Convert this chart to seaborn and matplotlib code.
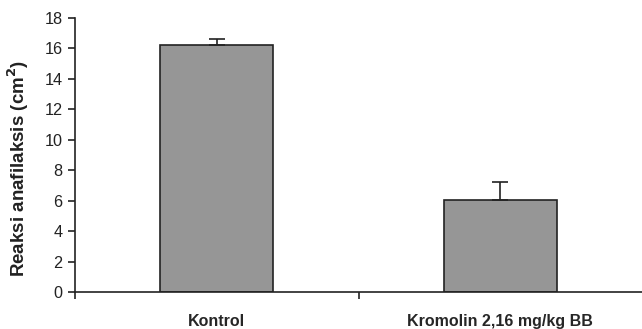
import matplotlib
matplotlib.use("Agg")
import matplotlib.pyplot as plt
import seaborn as sns
import pandas as pd

categories = ["Kontrol", "Kromolin 2,16 mg/kg BB"]
means = [16.25, 6.05]
errors = [0.4, 1.15]

sns.set_style("white")
plt.rcParams["font.family"] = ["Liberation Sans", "DejaVu Sans"]

df = pd.DataFrame({"group": categories, "value": means})

fig = plt.figure(figsize=(6.42, 3.29), dpi=100)
ax = fig.add_axes([75/642, 1 - 292/329, 1 - 75/642, (292 - 18)/329])

sns.barplot(data=df, x="group", y="value", color="#969696", edgecolor="#222222",
            linewidth=1.2, width=0.4, errorbar=None, saturation=1, ax=ax)
ax.errorbar(range(len(categories)), means, yerr=[[0]*len(errors), errors],
            fmt="none", ecolor="#222222", elinewidth=1.2, capsize=6, capthick=1.2)

ax.set_xlim(-0.5, 1.5)
ax.set_ylim(0, 18)
ax.set_yticks(range(0, 19, 2))
ax.set_xticks([0, 1])
ax.set_xticklabels(categories, fontweight="bold", fontsize=11.5)
ax.tick_params(axis="x", which="major", length=0, pad=16, bottom=True)
ax.set_xticks([-0.5, 0.5], minor=True)
ax.tick_params(axis="x", which="minor", length=5, width=1.2, direction="out",
               color="#222222", bottom=True)
ax.tick_params(axis="y", length=5, width=1.2, direction="out", color="#222222",
               labelsize=11.7, pad=4, left=True, labelcolor="#222222")
ax.set_xlabel("")
ax.set_ylabel("Reaksi anafilaksis (cm$^\\mathbf{2}$)", fontweight="bold", fontsize=13.5,
              color="#222222")
ax.yaxis.set_label_coords(-0.078, 0.45)

for s in ["top", "right"]:
    ax.spines[s].set_visible(False)
for s in ["left", "bottom"]:
    ax.spines[s].set_color("#222222")
    ax.spines[s].set_linewidth(1.2)

fig.savefig("out.png", dpi=100)
